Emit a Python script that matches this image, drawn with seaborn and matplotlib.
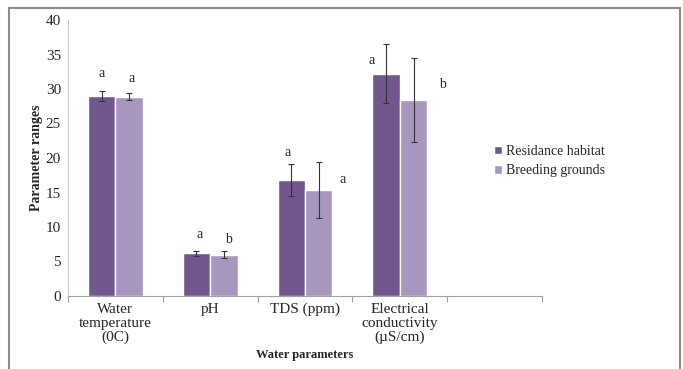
import matplotlib
matplotlib.use('Agg')
import matplotlib.pyplot as plt
import matplotlib.patches as mpatches
import seaborn as sns
import pandas as pd

# values
parameters = ['Water\ntemperature\n(0C)', 'pH', 'TDS (ppm)', 'Electrical\nconductivity\n(\u00b5S/cm)']
groups = ['Residance habitat', 'Breeding grounds']
residance = [29.0, 6.2, 16.8, 32.2]
breeding = [28.9, 6.0, 15.4, 28.4]
residance_err = [0.7, 0.35, 2.3, 4.25]
breeding_err = [0.45, 0.5, 4.05, 6.1]
residance_letters = ['a', 'a', 'a', 'a']
breeding_letters = ['a', 'b', 'a', 'b']

dark = '#72578F'
light = '#A797BF'

df = pd.DataFrame({
    'parameter': parameters * 2,
    'group': [groups[0]] * 4 + [groups[1]] * 4,
    'value': residance + breeding,
})

sns.set_style('white')
plt.rcParams['font.family'] = ['Liberation Serif', 'DejaVu Serif']

fig = plt.figure(figsize=(6.83, 3.69), dpi=100)
ax = fig.add_axes([68 / 683, 1 - 296 / 369, (542 - 68) / 683, (296 - 20) / 369])

sns.barplot(data=df, x='parameter', y='value', hue='group', order=parameters,
            hue_order=groups, palette=[dark, light], width=0.58, gap=0,
            saturation=1, errorbar=None, ax=ax, legend=True)

# error bars and significance letters, positioned on the bars seaborn drew
half = 0.58 / 4
for i in range(4):
    ax.errorbar(i - half, residance[i], yerr=residance_err[i], fmt='none',
                ecolor='#333333', elinewidth=0.8, capsize=2.5, capthick=0.8)
    ax.errorbar(i + half, breeding[i], yerr=breeding_err[i], fmt='none',
                ecolor='#333333', elinewidth=0.8, capsize=2.5, capthick=0.8)

# letter placement (Excel labels were nudged by hand)
res_pos = [(0.0, 2.6), (0.03, 2.3), (-0.04, 1.7), (-0.15, -2.3)]
bre_pos = [(0.03, 2.1), (0.05, 1.7), (0.25, -2.5), (0.3, -3.9)]
for i in range(4):
    dx, dy = res_pos[i]
    ax.text(i - half + dx, residance[i] + residance_err[i] + dy, residance_letters[i],
            ha='center', va='center', fontsize=10)
    dx, dy = bre_pos[i]
    ax.text(i + half + dx, breeding[i] + breeding_err[i] + dy, breeding_letters[i],
            ha='center', va='center', fontsize=10)

ax.set_xlim(-0.5, 4.5)
ax.set_ylim(0, 40)
ax.set_yticks(range(0, 41, 5))
ax.set_xticks(range(4))
ax.set_xticklabels(parameters, fontsize=11, linespacing=1.1)
ax.set_xticks([x - 0.5 for x in range(6)], minor=True)
ax.tick_params(axis='x', which='major', length=0, pad=5)
ax.tick_params(axis='x', which='minor', length=4, color='#A0A0A0', width=0.8, direction='out')
ax.tick_params(axis='y', length=3, color='#C8C8C8', width=0.8, direction='out', labelsize=11, pad=2)
ax.tick_params(axis='x', bottom=True, which='minor')

for side in ['top', 'right']:
    ax.spines[side].set_visible(False)
ax.spines['left'].set_color('#C8C8C8')
ax.spines['bottom'].set_color('#A0A0A0')
ax.spines['left'].set_linewidth(0.8)
ax.spines['bottom'].set_linewidth(0.8)

ax.set_xlabel('Water parameters', fontsize=9, fontweight='bold', labelpad=3)
ax.set_ylabel('Parameter ranges', fontsize=10, fontweight='bold', labelpad=2)

handles, labels = ax.get_legend_handles_labels()
ax.get_legend().remove()
fig.legend(handles, labels, loc='center left', bbox_to_anchor=(481 / 683, 1 - 161 / 369),
           frameon=False, fontsize=10, handlelength=0.6, handleheight=0.6,
           handletextpad=0.3, labelspacing=0.45)

# outer frame of the picture
fig.patches.append(mpatches.Rectangle((9 / 683, -0.1), 671 / 683, 1.1 - 8 / 369,
                                      transform=fig.transFigure, fill=False,
                                      edgecolor='#8C8C8C', linewidth=1.5))

fig.savefig('out.png', dpi=100)
